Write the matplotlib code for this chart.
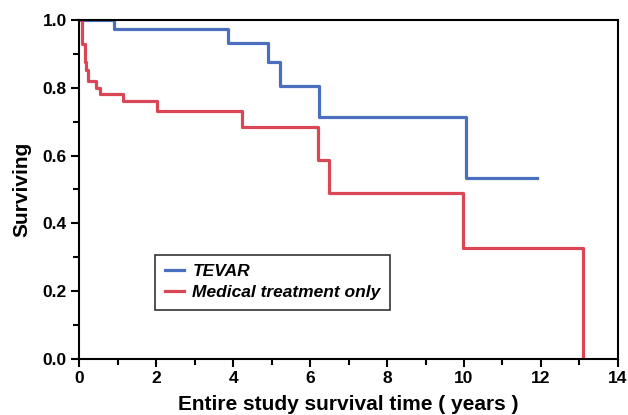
import matplotlib
matplotlib.use("Agg")
import matplotlib.pyplot as plt
from matplotlib.ticker import MultipleLocator, FormatStrFormatter

# Kaplan-Meier step data
tevar_time = [0, 0.91, 3.87, 4.90, 5.22, 6.22, 10.04, 11.89]
tevar_surv = [1.0, 0.972, 0.932, 0.877, 0.806, 0.715, 0.535, 0.535]

med_time = [0, 0.08, 0.14, 0.18, 0.22, 0.44, 0.53, 1.15, 2.02, 4.22, 6.20, 6.50, 9.97, 13.08]
med_surv = [1.0, 0.930, 0.876, 0.852, 0.820, 0.800, 0.781, 0.762, 0.732, 0.685, 0.587, 0.489, 0.327, 0.0]

labels = ["TEVAR", "Medical treatment only"]
colors = ["#4A6FBE", "#D94656"]

plt.rcParams["font.family"] = ["Liberation Sans", "DejaVu Sans"]

fig = plt.figure(figsize=(6.28, 4.15), dpi=100)
ax = fig.add_axes([0.126, 0.135, 0.858, 0.817])

ax.step(tevar_time, tevar_surv, where="post", color=colors[0], lw=2.3, label=labels[0])
ax.step(med_time, med_surv, where="post", color=colors[1], lw=2.3, label=labels[1])

ax.set_xlim(0, 14)
ax.set_ylim(0, 1.0)
ax.xaxis.set_major_locator(MultipleLocator(2))
ax.xaxis.set_minor_locator(MultipleLocator(1))
ax.yaxis.set_major_locator(MultipleLocator(0.2))
ax.yaxis.set_minor_locator(MultipleLocator(0.1))
ax.yaxis.set_major_formatter(FormatStrFormatter("%.1f"))

for s in ax.spines.values():
    s.set_linewidth(1.5)
    s.set_color("black")
ax.tick_params(which="major", direction="out", length=6, width=1.5, pad=3)
ax.tick_params(which="minor", direction="out", length=4, width=1.5)
ax.tick_params(labelsize=12.5)
for lab in ax.get_xticklabels() + ax.get_yticklabels():
    lab.set_fontweight("bold")

ax.set_xlabel("Entire study survival time ( years )", fontsize=15, fontweight="bold", labelpad=6)
ax.set_ylabel("Surviving", fontsize=15, fontweight="bold", labelpad=8)

leg = ax.legend(loc="lower left", bbox_to_anchor=(0.141, 0.1445), borderaxespad=0, frameon=True,
                fancybox=False, edgecolor="black", handlelength=1.1, handletextpad=0.5,
                borderpad=0.55, labelspacing=0.35,
                prop={"weight": "bold", "style": "italic", "size": 12.5})
leg.get_frame().set_linewidth(1.2)

fig.savefig("out.png", dpi=100)
